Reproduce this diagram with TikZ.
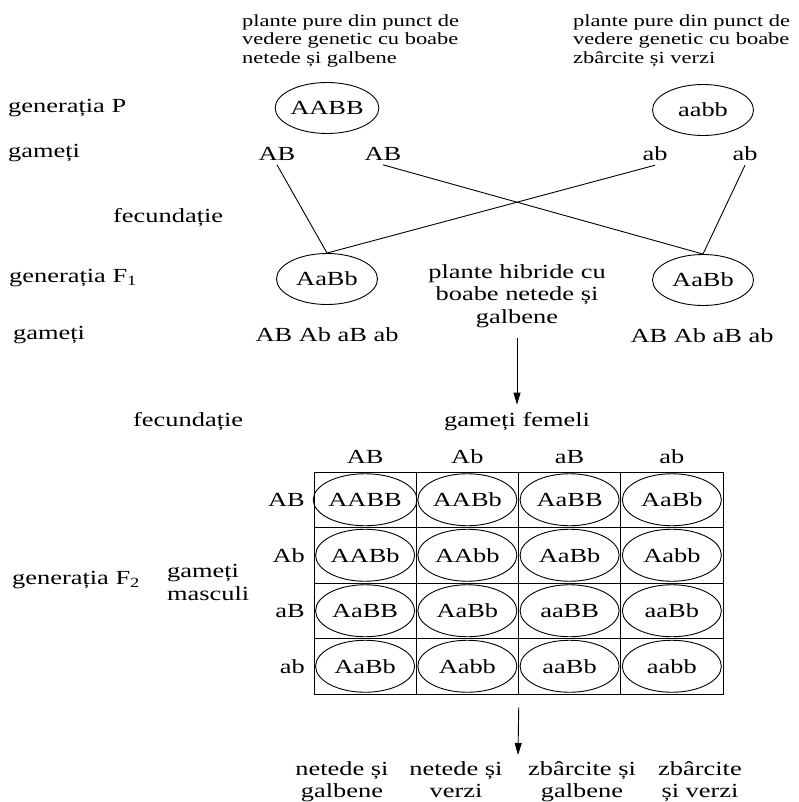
\documentclass[tikz,border=0pt]{standalone}
\usepackage{fontspec}
\setmainfont{Liberation Serif}[FakeStretch=1.32]
\usetikzlibrary{arrows.meta,shapes.geometric}

\begin{document}
\begin{tikzpicture}[
  x=1pt, y=-1pt,
  lbl/.style={inner sep=0, font=\fontsize{20}{22.5}\selectfont},
  note/.style={
    inner sep=0, anchor=north west, align=left,
    font=\fontsize{17}{18.5}\selectfont
  },
  gam/.style={lbl, inner sep=4pt},
  geno/.style={
    ellipse, draw, line width=0.9pt, inner sep=0,
    minimum width=101pt, minimum height=51pt,
    font=\fontsize{20}{22.5}\selectfont
  },
  cellbox/.style={
    draw, line width=0.9pt, inner sep=0,
    minimum width=102.25pt, minimum height=55.5pt
  },
  cellgeno/.style={geno, minimum width=99pt, minimum height=52pt},
  cross/.style={line width=0.9pt},
  down/.style={-{Triangle[length=12pt,width=7pt]}, line width=0.9pt}
]
\useasboundingbox (0,0) rectangle (798,802);

% Parent plants.
\node[note] (noteP)  at (242,14.5) {plante pure din punct de\\vedere genetic cu boabe\\netede și galbene};
\node[note] (noteQ)  at (573,14.5) {plante pure din punct de\\vedere genetic cu boabe\\zbârcite și verzi};
\node[geno] (parA) at (327,108) {AABB};
\node[geno] (parB) at (703,110) {aabb};

% Row captions on the left.
\node[lbl, anchor=west] (genP)  at (8,108)   {generația P};
\node[lbl, anchor=west] (gamP)  at (8,153)   {gameți};
\node[lbl, anchor=west] (fecA)  at (113,218) {fecundație};
\node[lbl, anchor=west] (genF1) at (9,278)   {generația F\textsubscript{1}};
\node[lbl, anchor=west] (gamF1) at (13,335)  {gameți};
\node[lbl, anchor=west] (fecB)  at (133,422) {fecundație};
\node[lbl, anchor=west] (genF2) at (12,580)  {generația F\textsubscript{2}};
\node[lbl, anchor=west, align=left] (mascul) at (167,582.5) {gameți\\masculi};

% Gametes of the parents.
\node[gam] (gA1) at (277,154) {AB};
\node[gam] (gA2) at (383,154) {AB};
\node[gam] (gB1) at (655,154) {ab};
\node[gam] (gB2) at (745,154) {ab};

% F1 hybrids.
\node[geno] (hybA) at (327,279) {AaBb};
\node[geno] (hybB) at (703,280) {AaBb};
\node[lbl, align=center] (hibrid) at (517,296) {plante hibride cu\\boabe netede și\\galbene};
\node[lbl] (gamA) at (327,335) {AB Ab aB ab};
\node[lbl] (gamB) at (702,336) {AB Ab aB ab};

\draw[cross] (gA1.south) -- (hybA.north);
\draw[cross] (gB1.south) -- (hybA.north);
\draw[cross] (gA2.south) -- (hybB.north);
\draw[cross] (gB2.south) -- (hybB.north);

% Punnett square.
\node[lbl] (femeli) at (517,422) {gameți femeli};
\draw[down, shorten <=10pt, shorten >=8pt] (hibrid.south) -- (femeli.north);

\foreach \g [count=\c from 0] in {AB,Ab,aB,ab} {
  \node[lbl] (fem-\c) at (365.1+102.25*\c,457) {\g};
  \node[lbl, anchor=east] (mas-\c) at (305,499.75+55.5*\c) {\g};
}

\foreach \g [count=\i from 0] in {AABB,AABb,AaBB,AaBb,
                                  AABb,AAbb,AaBb,Aabb,
                                  AaBB,AaBb,aaBB,aaBb,
                                  AaBb,Aabb,aaBb,aabb} {
  \pgfmathtruncatemacro{\r}{\i/4}
  \pgfmathtruncatemacro{\c}{mod(\i,4)}
  \node[cellbox] (cell-\r-\c) at (365.1+102.25*\c,499.75+55.5*\r) {};
  \node[cellgeno] (geno-\r-\c) at (cell-\r-\c) {\g};
}

% Phenotypes of F2.
\coordinate (phen) at (518,755);
\draw[down, shorten <=13pt] (cell-3-1.south east) -- (phen);

\node[lbl, anchor=north, align=center] (ph1) at (342,761) {netede și\\galbene};
\node[lbl, anchor=north, align=center] (ph2) at (456,761) {netede și\\verzi};
\node[lbl, anchor=north, align=center] (ph3) at (582,761) {zbârcite și\\galbene};
\node[lbl, anchor=north, align=center] (ph4) at (700,761) {zbârcite\\și verzi};

\end{tikzpicture}
\end{document}
